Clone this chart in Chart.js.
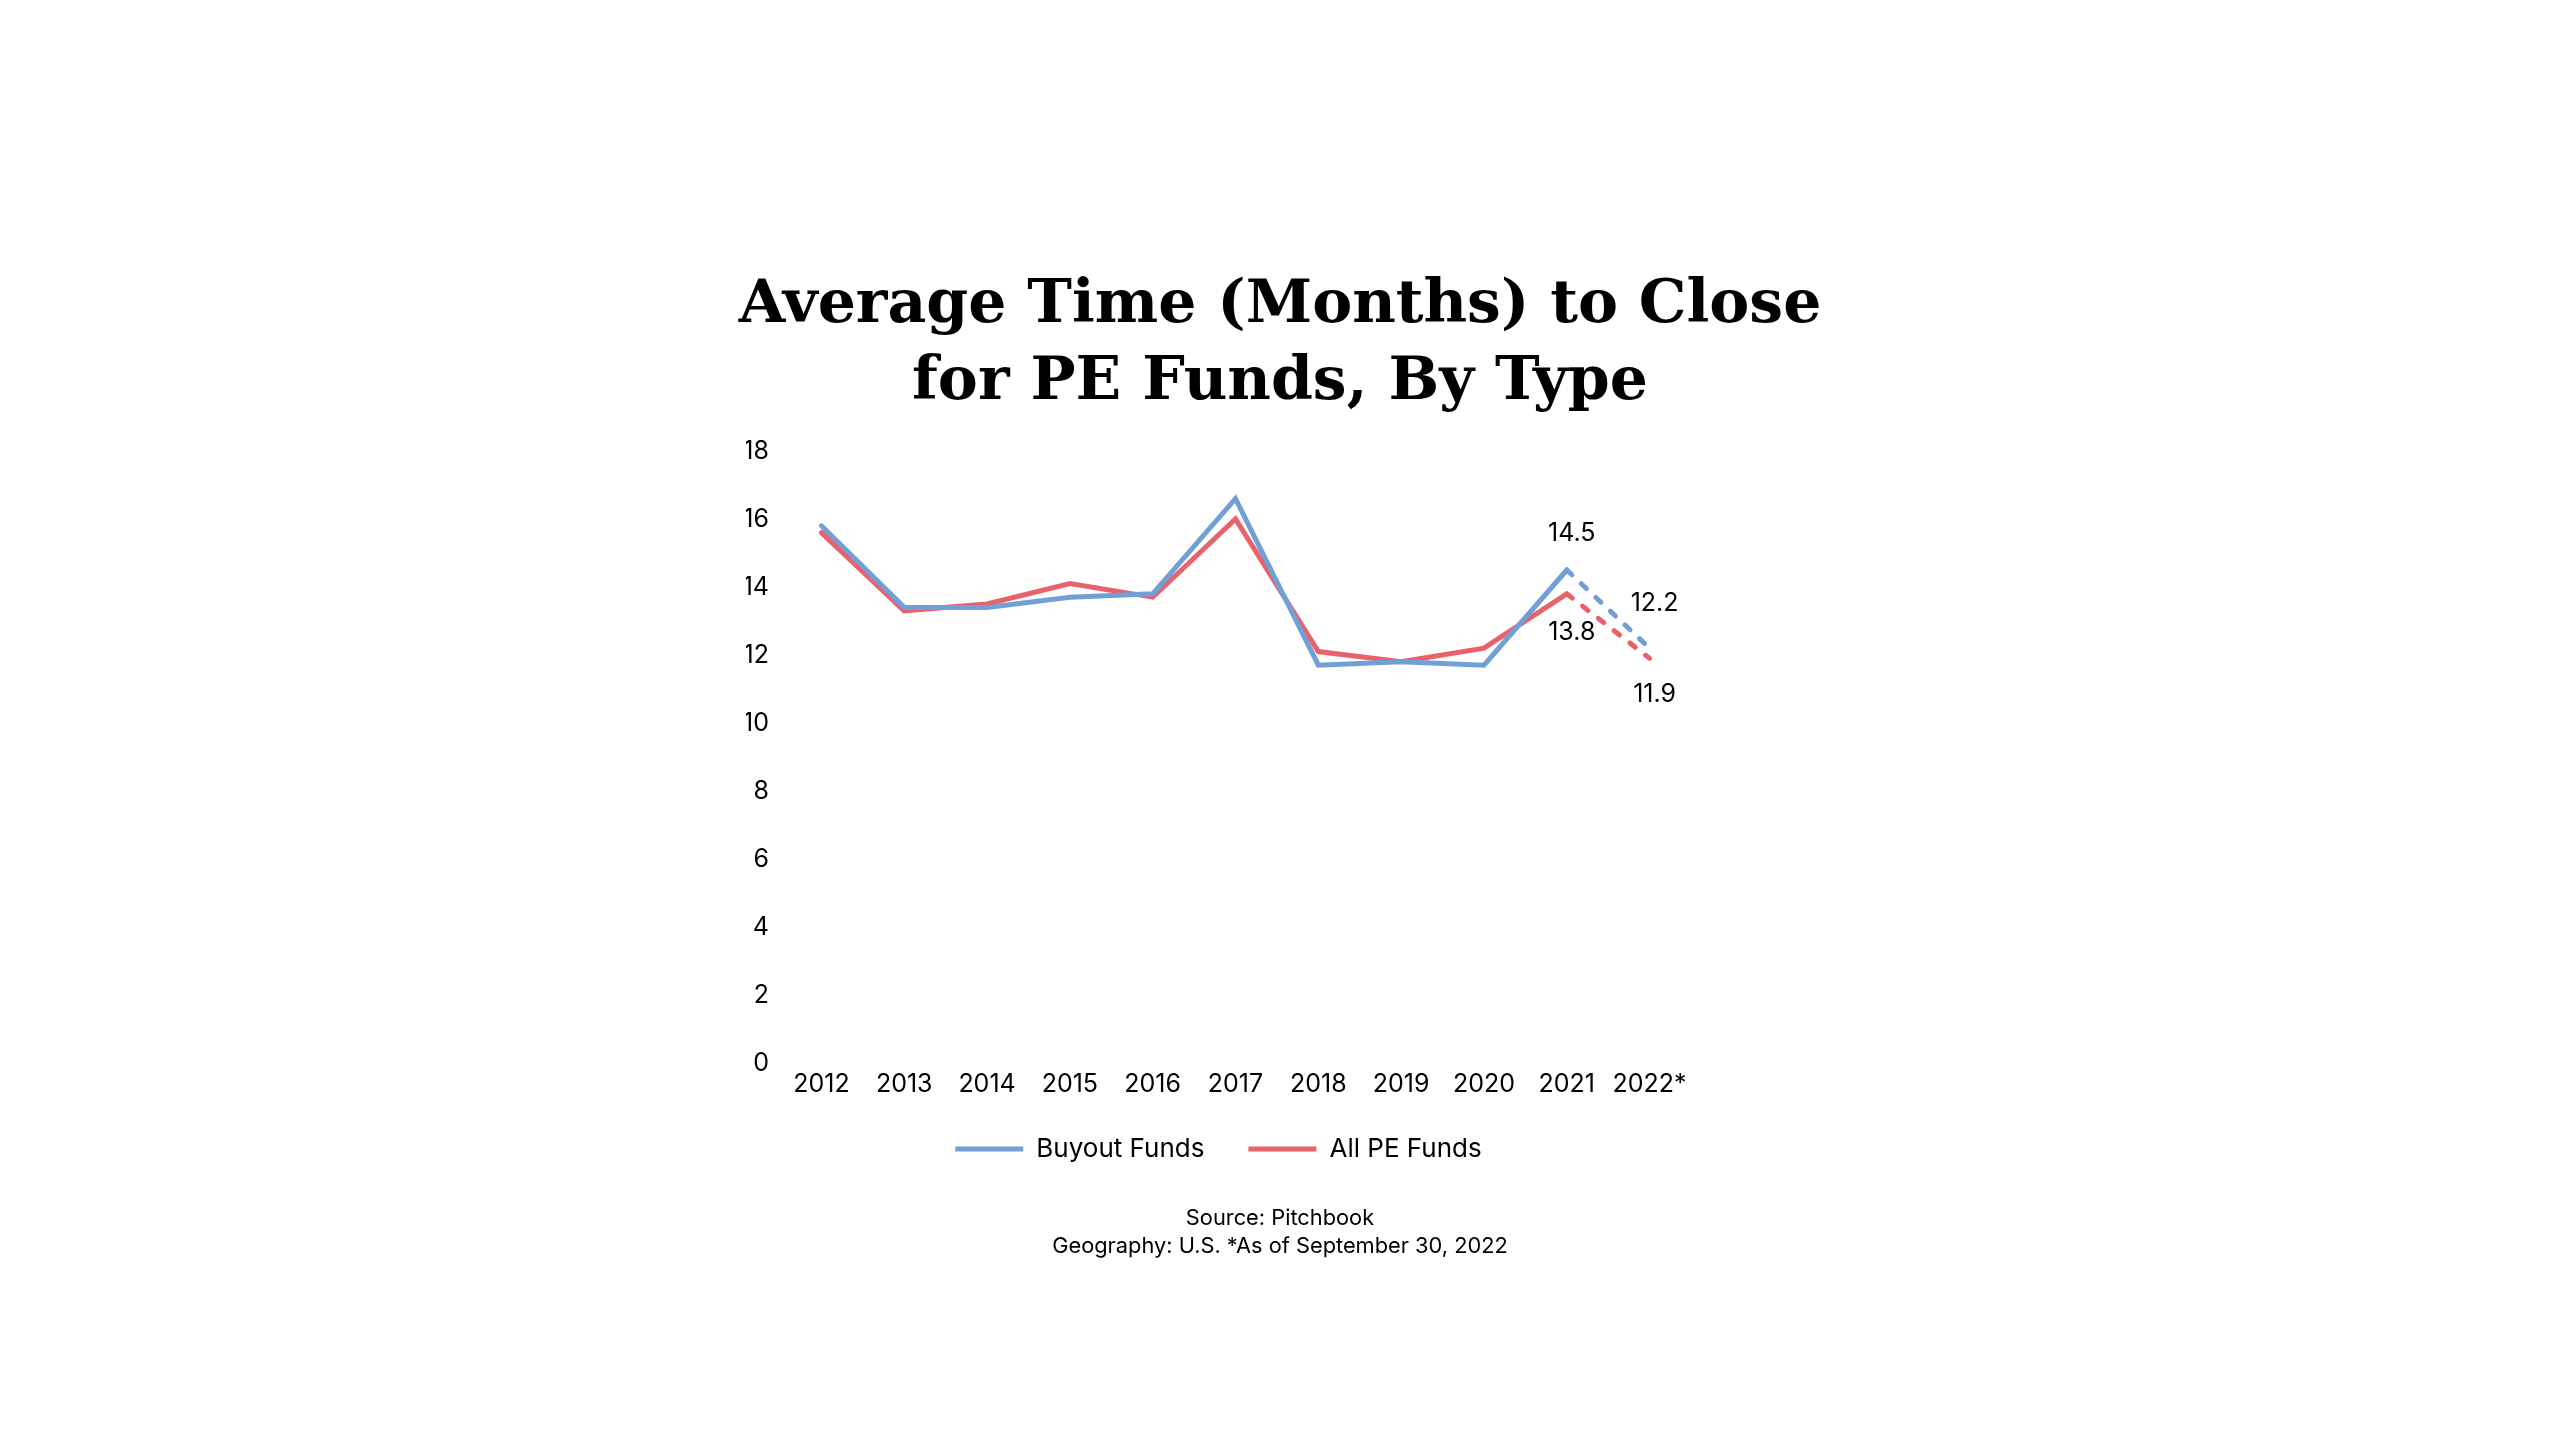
<!DOCTYPE html>
<html>
<head>
<meta charset="utf-8">
<script src="https://cdn.jsdelivr.net/npm/chart.js@4.4.0/dist/chart.umd.min.js"></script>
<style>
html,body{margin:0;padding:0;background:#fff;}
#wrap{width:2560px;height:1440px;position:relative;}
</style>
</head>
<body>
<div id="wrap"><canvas id="c" width="2560" height="1440"></canvas></div>
<script>
const years = ["2012","2013","2014","2015","2016","2017","2018","2019","2020","2021","2022*"];
const buyoutFunds = [15.8, 13.4, 13.4, 13.7, 13.8, 16.6, 11.7, 11.8, 11.7, 14.5, 12.2];
const allPEFunds = [15.6, 13.3, 13.5, 14.1, 13.7, 16.0, 12.1, 11.8, 12.2, 13.8, 11.9];
const labelledIndices = [9, 10];
const yTicks = [0, 2, 4, 6, 8, 10, 12, 14, 16, 18];
const titleLines = ["Average Time (Months) to Close", "for PE Funds, By Type"];
const sourceLines = ["Source: Pitchbook", "Geography: U.S. *As of September 30, 2022"];

const BLUE = "#729fd6";
const RED = "#e8626a";
const SANS = "Inter, 'Noto Sans', sans-serif";

const dashLast = (ctx) => ctx.p1DataIndex === years.length - 1 ? [7, 13] : undefined;

const textPlugin = {
  id: "texts",
  afterDraw(chart) {
    const ctx = chart.ctx;
    const cx = chart.width / 2;
    ctx.save();
    ctx.fillStyle = "#000";
    ctx.textAlign = "center";
    ctx.textBaseline = "middle";
    ctx.font = "bold 60px 'DejaVu Serif', serif";
    titleLines.forEach((t, i) => ctx.fillText(t, cx, 306 + i * 77));
    ctx.font = "21.8px " + SANS;
    sourceLines.forEach((t, i) => ctx.fillText(t, cx, 1218 + i * 28));
    ctx.restore();
  }
};

// label offsets: [dataset][labelled point]
const labelOffsets = [[-37, -45], [39, 36]];

const labelPlugin = {
  id: "pointLabels",
  afterDatasetsDraw(chart) {
    const ctx = chart.ctx;
    ctx.save();
    ctx.fillStyle = "#000";
    ctx.textAlign = "center";
    ctx.textBaseline = "middle";
    ctx.font = "25px " + SANS;
    chart.data.datasets.forEach((ds, di) => {
      const meta = chart.getDatasetMeta(di);
      labelledIndices.forEach((i, k) => {
        const p = meta.data[i];
        ctx.fillText(ds.data[i].toFixed(1), p.x + 5, p.y + labelOffsets[di][k]);
      });
    });
    ctx.restore();
  }
};

new Chart(document.getElementById("c"), {
  type: "line",
  data: {
    labels: years,
    datasets: [
      {
        label: "Buyout Funds",
        data: buyoutFunds,
        borderColor: BLUE,
        backgroundColor: BLUE,
        borderWidth: 5,
        pointRadius: 0,
        tension: 0,
        borderCapStyle: "round",
        borderJoinStyle: "miter",
        segment: { borderDash: dashLast }
      },
      {
        label: "All PE Funds",
        data: allPEFunds,
        borderColor: RED,
        backgroundColor: RED,
        borderWidth: 5,
        pointRadius: 0,
        tension: 0,
        borderCapStyle: "round",
        borderJoinStyle: "miter",
        segment: { borderDash: dashLast }
      }
    ]
  },
  options: {
    responsive: false,
    animation: false,
    devicePixelRatio: 1,
    layout: { padding: { left: 746, right: 869, top: 451, bottom: 268 } },
    scales: {
      x: {
        type: "category",
        offset: true,
        grid: { display: false, drawTicks: false },
        border: { display: false },
        afterFit: (scale) => { scale.height -= 13; },
        ticks: { color: "#000", font: { family: SANS, size: 25 }, padding: 6, maxRotation: 0, autoSkip: false }
      },
      y: {
        min: 0,
        max: 18,
        afterBuildTicks: (scale) => { scale.ticks = yTicks.map((v) => ({ value: v })); },
        afterFit: (scale) => { scale.width = 34; },
        grid: { display: false, drawTicks: false },
        border: { display: false },
        ticks: { color: "#000", font: { family: SANS, size: 25 }, padding: 11 }
      }
    },
    plugins: {
      title: { display: false },
      tooltip: { enabled: false },
      legend: {
        position: "bottom",
        labels: {
          usePointStyle: true,
          pointStyle: "line",
          pointStyleWidth: 68,
          boxHeight: 26,
          color: "#000",
          padding: 44,
          font: { family: SANS, size: 26 }
        }
      }
    }
  },
  plugins: [textPlugin, labelPlugin]
});
</script>
</body>
</html>
